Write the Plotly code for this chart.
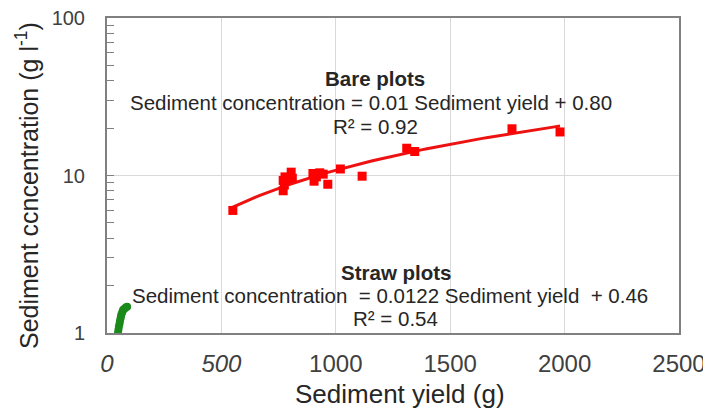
import plotly.graph_objects as go
import numpy as np

# Bare plots (red)
bare_yield = [550, 770, 775, 770, 778, 790, 805, 810, 900, 905, 915, 930, 945, 965, 1020, 1115, 1310, 1345, 1770, 1980]
bare_conc = [6.0, 8.0, 8.7, 9.3, 9.8, 9.5, 10.5, 9.6, 10.3, 9.2, 9.8, 10.4, 10.2, 8.8, 11.0, 9.9, 14.9, 14.2, 19.8, 18.9]
bare_slope, bare_intercept = 0.01, 0.80

# Straw plots (green)
straw_yield = [48, 50, 52, 55, 57, 60, 62, 66, 70, 75, 82, 88]
straw_conc = [1.00, 1.05, 1.10, 1.15, 1.20, 1.25, 1.30, 1.35, 1.40, 1.42, 1.45, 1.47]
straw_slope, straw_intercept = 0.0122, 0.46

x_ticks = [0, 500, 1000, 1500, 2000, 2500]
x_ticktext = ["<i>0</i>", "<i>500</i>", "1000", "1500", "2000", "2500"]
y_labelled = [1, 10, 100]
y_all_ticks = [1, 2, 3, 4, 5, 6, 7, 8, 9, 10, 20, 30, 40, 50, 60, 70, 80, 90, 100]
y_gridlines = [10]

fig = go.Figure()

bx = np.linspace(min(bare_yield), max(bare_yield), 60)
fig.add_trace(go.Scatter(x=bx, y=bare_slope * bx + bare_intercept, mode="lines",
                         line=dict(color="#ee1111", width=3), showlegend=False, hoverinfo="skip"))
fig.add_trace(go.Scatter(x=bare_yield, y=bare_conc, mode="markers",
                         marker=dict(symbol="square", size=9, color="#ff0000"), showlegend=False))

sx = np.linspace(min(straw_yield), max(straw_yield), 20)
fig.add_trace(go.Scatter(x=sx, y=straw_slope * sx + straw_intercept, mode="lines",
                         line=dict(color="#1a8a1a", width=4), showlegend=False, hoverinfo="skip"))
fig.add_trace(go.Scatter(x=straw_yield, y=straw_conc, mode="markers",
                         marker=dict(symbol="circle", size=8, color="#1a8a1a"), showlegend=False))

for g in y_gridlines:
    fig.add_hline(y=g, line=dict(color="#d9d9d9", width=1), layer="below")

font = "Liberation Sans, Arial, sans-serif"
txt = "#262626"

# plot area in screen px: left 107, right 679, top 18, bottom 333
def px_x(sx_):
    return (sx_ - 107) / 572.0

def px_y(sy_):
    return (333 - sy_) / 315.0

annos = [
    ("<b>Bare plots</b>", 375, 78),
    ("Sediment concentration = 0.01 Sediment yield + 0.80", 371, 102),
    ("R² = 0.92", 375, 126),
    ("<b>Straw plots</b>", 396, 272),
    ("Sediment concentration \u00a0= 0.0122 Sediment yield \u00a0+ 0.46", 390, 295),
    ("R² = 0.54", 395, 318),
]
for t, sx_, sy_ in annos:
    fig.add_annotation(text=t, xref="paper", yref="paper", x=px_x(sx_), y=px_y(sy_),
                       showarrow=False, font=dict(family=font, size=20.5, color=txt),
                       xanchor="center", yanchor="middle")

# axis titles
fig.add_annotation(text="Sediment ccncentration (g l<sup>-1</sup>)", xref="paper", yref="paper",
                   x=px_x(27), y=px_y(186), textangle=-90, showarrow=False,
                   font=dict(family=font, size=25, color=txt), xanchor="center", yanchor="middle")
fig.add_annotation(text="Sediment yield (g)", xref="paper", yref="paper",
                   x=px_x(400), y=px_y(394), showarrow=False,
                   font=dict(family=font, size=26, color=txt), xanchor="center", yanchor="middle")

# page body has an 8px margin, so figure is drawn 8px right/down
fig.update_layout(
    width=703, height=409,
    margin=dict(l=99, r=32, t=10, b=84, autoexpand=False),
    paper_bgcolor="white", plot_bgcolor="white",
    font=dict(family=font, color=txt),
    showlegend=False,
)
fig.update_xaxes(range=[0, 2500], tickvals=x_ticks, ticktext=x_ticktext,
                 showgrid=True, gridcolor="#d9d9d9", gridwidth=1, automargin=False,
                 showline=True, linecolor="#808080", linewidth=2, mirror=True,
                 ticks="", ticklabelstandoff=8, ticklabeloverflow="allow",
                 tickfont=dict(size=24, color="#404040"),
                 zeroline=False)
fig.update_yaxes(type="log", range=[0, 2], tickvals=y_all_ticks,
                 ticktext=[str(v) if v in y_labelled else "" for v in y_all_ticks],
                 showgrid=False, automargin=False,
                 showline=True, linecolor="#808080", linewidth=2, mirror=True,
                 ticks="inside", ticklen=7, tickcolor="#808080", ticklabelstandoff=16,
                 ticklabeloverflow="allow",
                 tickfont=dict(size=20, color="#404040"),
                 zeroline=False)

fig.write_html("out.html")
